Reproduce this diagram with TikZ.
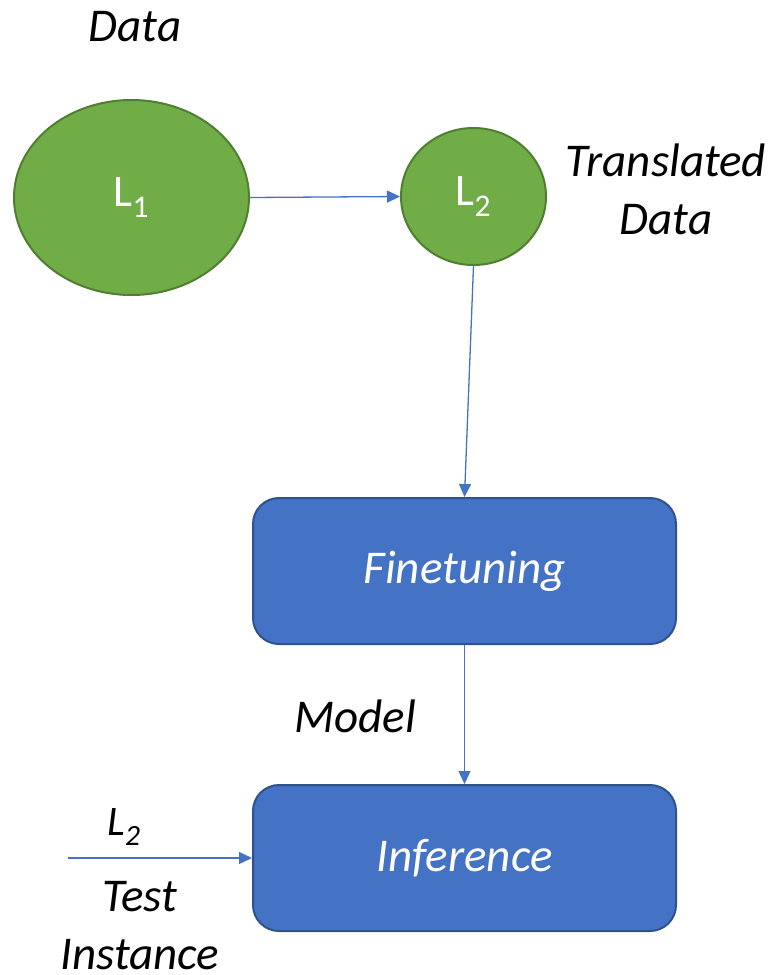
\documentclass[tikz,border=0pt]{standalone}
\usepackage{fontspec}
\setmainfont{Carlito}
\usetikzlibrary{arrows.meta,shapes.geometric}

\definecolor{leafgreen}{HTML}{70AD47}
\definecolor{leafedge}{HTML}{507E32}
\definecolor{boxblue}{HTML}{4472C4}
\definecolor{boxedge}{HTML}{2F528F}

\tikzset{
  langnode/.style={ellipse, draw=leafedge, fill=leafgreen, line width=2pt,
    inner sep=0pt, text=white, font=\fontsize{45}{54}\selectfont},
  stagebox/.style={rectangle, rounded corners=26pt, draw=boxedge, fill=boxblue,
    line width=2pt, minimum width=423pt, minimum height=146pt, inner sep=0pt,
    text=white, font=\fontsize{47}{57}\selectfont\itshape},
  caption/.style={text=black, font=\fontsize{47}{58}\selectfont\itshape,
    inner sep=0pt, align=center},
  flow/.style={draw=boxblue, line width=1.3pt,
    -{Triangle[length=13pt,width=12pt]}}
}

\begin{document}
\begin{tikzpicture}[x=1pt,y=-1pt]
  \useasboundingbox (0,0) rectangle (777,975);

  % language nodes
  \node[langnode, minimum width=235pt, minimum height=195pt] (l1) at (131.5,197.5) {L\textsubscript{1}};
  \node[langnode, minimum width=145pt, minimum height=137pt] (l2) at (473.5,196.5) {L\textsubscript{2}};

  % processing stages
  \node[stagebox] (fine) at (464.5,571) {\raisebox{-3pt}{Finetuning}};
  \node[stagebox] (infer) at (464.5,858) {\raisebox{-3pt}{Inference}};

  % captions
  \node[caption] (datalbl) at (135,27) {Data};
  \node[caption] (translbl) at (666,189) {Translated\\Data};
  \node[caption] (modellbl) at (355,716) {Model};
  \node[caption, font=\fontsize{42}{50}\selectfont\itshape] (l2lbl) at (124,827) {L\textsubscript{2}};
  \node[caption] (testlbl) at (140,926) {Test\\Instance};

  % connectors
  \coordinate (testsrc) at (68,858);
  \draw[flow] (l1.east) -- (l2.west);
  \draw[flow] (l2.south) -- (fine.north);
  \draw[flow] (fine.south) -- (infer.north);
  \draw[flow] (testsrc) -- (infer.west);
\end{tikzpicture}
\end{document}
